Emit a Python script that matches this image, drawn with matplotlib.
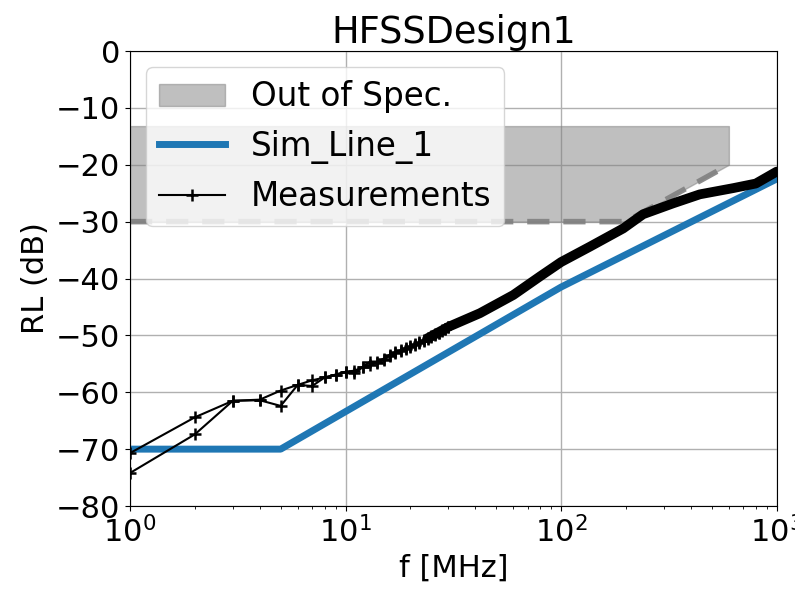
import matplotlib
matplotlib.use("Agg")
import matplotlib.pyplot as plt

# spec mask (out of spec area)
spec_f = [1, 200, 600]
spec_low = [-30, -30, -20]
spec_top = -13.2

# simulated line
sim_f = [1, 5, 10, 100, 1000]
sim_rl = [-70, -70, -63.4, -41.5, -22.5]

# measurements, two sweeps, 1 MHz steps (low freq part)
meas_f = [1, 2, 3, 4, 5, 6, 7, 8, 9, 10, 11, 12, 13, 14, 15, 16, 17, 18, 19, 20,
          21, 22, 23, 24, 25, 26, 27, 28, 29, 30]
meas_a = [-70.7, -64.4, -61.5, -61.3, -59.7, -58.7, -57.9, -57.4, -56.9, -56.4,
          -56.2, -55.6, -54.6, -54.6, -54.1, -53.4, -52.9, -52.6, -52.2, -51.9,
          -51.5, -51.2, -50.8, -50.5, -50.1, -49.8, -49.5, -49.1, -48.8, -48.5]
meas_b = [-74.2, -67.4, -61.5, -61.4, -62.4, -58.7, -58.9, -57.4, -56.9, -56.4,
          -56.7, -55.6, -55.2, -54.8, -54.3, -53.6, -53.1, -52.7, -52.4, -52.0,
          -51.7, -51.3, -51.0, -50.6, -50.3, -49.9, -49.6, -49.3, -48.9, -48.6]

# dense part of the sweep (markers merge into a thick band)
dense_f = [24, 30, 42, 60, 80, 100, 136, 194, 240, 330, 440, 630, 800, 1000]
dense_rl = [-50.5, -48.5, -46.1, -42.9, -39.6, -37.1, -34.4, -31.2, -28.7,
            -26.8, -25.2, -24.1, -23.3, -21.2]

plt.rcParams['font.size'] = 22

fig = plt.figure(figsize=(7.95, 5.91), dpi=100)
ax = fig.add_axes([0.1635, 0.1438, 0.8135, 0.7699])

ax.fill_between(spec_f, spec_low, spec_top, color='gray', alpha=0.5,
                lw=1, label='Out of Spec.')
ax.plot(spec_f, spec_low, color='gray', lw=4, ls=(0, (4, 2.5)), alpha=0.9)

ax.plot(sim_f, sim_rl, color='#1f77b4', lw=5, label='Sim_Line_1')

ax.plot(dense_f, dense_rl, color='black', lw=7, solid_capstyle='round')
ax.plot(meas_f, meas_b, color='black', lw=1.5, marker='+', ms=8, mew=1.8)
ax.plot(meas_f, meas_a, color='black', lw=1.5, marker='+', ms=8, mew=1.8,
        label='Measurements')

ax.set_xscale('log')
ax.set_xlim(1, 1000)
ax.set_ylim(-80, 0)
ax.set_yticks(range(-80, 1, 10))
ax.grid(True, which='major', color='#b0b0b0', lw=1)
ax.set_axisbelow(True)

ax.set_xlabel('f [MHz]')
ax.set_ylabel('RL (dB)')
ax.set_title('HFSSDesign1', fontsize=26.5)
ax.legend(loc='upper left', fontsize=23.5)

fig.savefig('out.png', dpi=100)
